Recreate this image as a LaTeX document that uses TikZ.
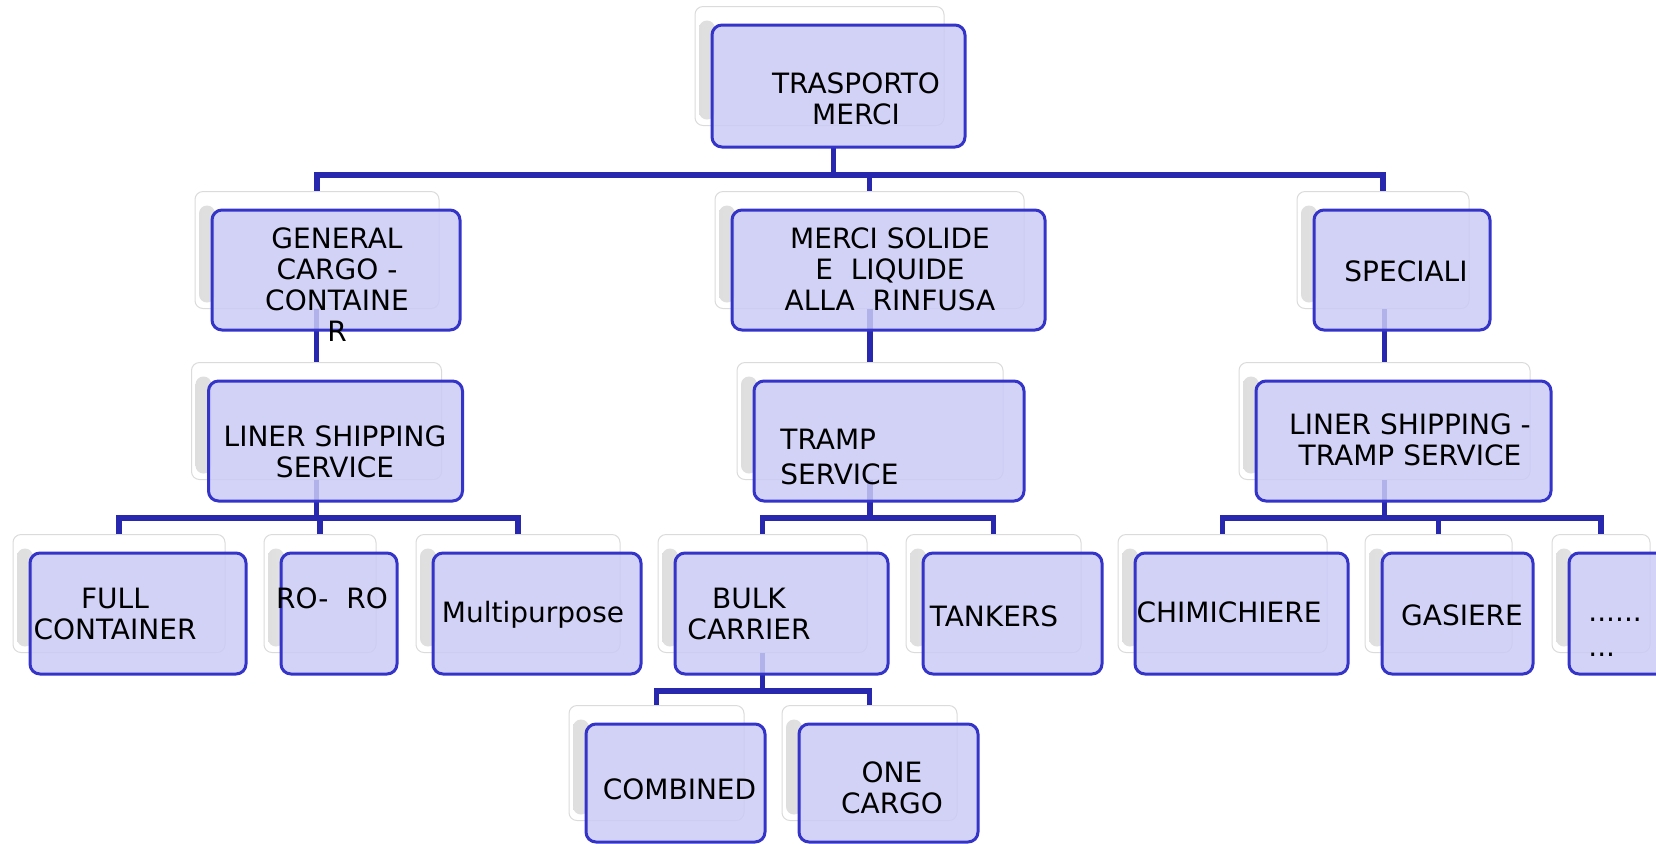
\documentclass[tikz,border=0pt]{standalone}
\usepackage{fontspec}
\setmainfont{DejaVu Sans}
\usepackage{xcolor}
\usetikzlibrary{calc}

\definecolor{cardfill}{RGB}{203,203,246}
\definecolor{cardline}{RGB}{52,52,200}
\definecolor{linkblue}{RGB}{40,40,175}

\tikzset{
  back/.style 2 args={draw=black!14, line width=0.5pt, fill=white, rounded corners=4pt,
    minimum width=#1, minimum height=#2, inner sep=0pt,
    path picture={\shade[left color=black!13, right color=black!3]
      ([xshift=2pt,yshift=-7pt]path picture bounding box.north west) rectangle
      ([xshift=10pt,yshift=3pt]path picture bounding box.south west);}},
  card/.style 2 args={draw=cardline, line width=1.5pt, fill=cardfill, fill opacity=0.85,
    rounded corners=5pt, minimum width=#1, minimum height=#2, inner sep=0pt},
  lbl/.style={align=center, inner sep=0pt, font=\fontsize{14}{15.5}\selectfont},
  link/.style={draw=linkblue, line width=2.75pt},
}

\begin{document}
\begin{tikzpicture}[x=0.5pt, y=-0.5pt]
\useasboundingbox (0,0) rectangle (1656,843);

% back sheets
\node[back={124.5pt}{59.5pt}] (t-s) at (819.5,66) {};
\node[back={122pt}{58.5pt}] (g-s) at (317,250) {};
\node[back={154.5pt}{58.5pt}] (m-s) at (869.5,250) {};
\node[back={86pt}{58.5pt}] (s-s) at (1383,250) {};
\node[back={125pt}{58.5pt}] (l-s) at (316.5,421) {};
\node[back={133pt}{58.5pt}] (tr-s) at (870,421) {};
\node[back={145.5pt}{58.5pt}] (lt-s) at (1384.5,421) {};
\node[back={106pt}{59pt}] (fc-s) at (119,593.5) {};
\node[back={56pt}{59pt}] (ro-s) at (320,593.5) {};
\node[back={102pt}{59pt}] (mp-s) at (518,593.5) {};
\node[back={104.5pt}{59pt}] (bk-s) at (762.5,593.5) {};
\node[back={87.5pt}{59pt}] (tk-s) at (993.5,593.5) {};
\node[back={104.5pt}{59pt}] (ch-s) at (1222.5,593.5) {};
\node[back={73.5pt}{59pt}] (ga-s) at (1438.5,593.5) {};
\node[back={49pt}{59pt}] (dt-s) at (1601,593.5) {};
\node[back={87.5pt}{57.5pt}] (co-s) at (656.5,763) {};
\node[back={87.5pt}{57.5pt}] (oc-s) at (869.5,763) {};

% connectors
\coordinate (t-foot) at ([xshift=-2.5pt]838.5,147);
\draw[link] (t-foot) -- ++(0,28) -| (g-s.north);
\draw[link] (t-foot) -- ++(0,28) -| (m-s.north);
\draw[link] (t-foot) -- ++(0,28) -| (s-s.north);
\draw[link] (l-s.north |- g-s.south) -- (l-s.north);
\draw[link] (tr-s.north |- m-s.south) -- (tr-s.north);
\draw[link] (lt-s.north |- s-s.south) -- (lt-s.north);
\draw[link] (l-s.south) -- ++(0,38) -| (fc-s.north);
\draw[link] (l-s.south) -- ++(0,38) -| (ro-s.north);
\draw[link] (l-s.south) -- ++(0,38) -| (mp-s.north);
\draw[link] (tr-s.south) -- ++(0,38) -| (bk-s.north);
\draw[link] (tr-s.south) -- ++(0,38) -| (tk-s.north);
\draw[link] (lt-s.south) -- ++(0,38) -| (ch-s.north);
\draw[link] (lt-s.south) -- ++(0,38) -| (ga-s.north);
\draw[link] (lt-s.south) -- ++(0,38) -| (dt-s.north);
\draw[link] (bk-s.south) -- ++(0,38) -| (co-s.north);
\draw[link] (bk-s.south) -- ++(0,38) -| (oc-s.north);

% cards
\node[card={126.5pt}{61pt}] (t) at (838.5,86) {};
\node[card={124pt}{60pt}] (g) at (336,270) {};
\node[card={156.5pt}{60pt}] (m) at (888.5,270) {};
\node[card={88pt}{60pt}] (s) at (1402,270) {};
\node[card={127pt}{60pt}] (l) at (335.5,441) {};
\node[card={135pt}{60pt}] (tr) at (889,441) {};
\node[card={147.5pt}{60pt}] (lt) at (1403.5,441) {};
\node[card={108pt}{60.5pt}] (fc) at (138,613.5) {};
\node[card={58pt}{60.5pt}] (ro) at (339,613.5) {};
\node[card={104pt}{60.5pt}] (mp) at (537,613.5) {};
\node[card={106.5pt}{60.5pt}] (bk) at (781.5,613.5) {};
\node[card={89.5pt}{60.5pt}] (tk) at (1012.5,613.5) {};
\node[card={106.5pt}{60.5pt}] (ch) at (1241.5,613.5) {};
\node[card={75.5pt}{60.5pt}] (ga) at (1457.5,613.5) {};
\node[card={51pt}{60.5pt}] (dt) at (1620,613.5) {};
\node[card={89.5pt}{59pt}] (co) at (675.5,783) {};
\node[card={89.5pt}{59pt}] (oc) at (888.5,783) {};

% texts
\node[lbl] (t-txt) at (856,98.5) {TRASPORTO\\MERCI};
\node[lbl] (g-txt) at (337,285) {GENERAL\\CARGO -\\CONTAINE\\R};
\node[lbl] (m-txt) at (890,269) {MERCI SOLIDE\\E\ \ LIQUIDE\\ALLA\ \ RINFUSA};
\node[lbl] (s-txt) at (1406,271) {SPECIALI};
\node[lbl] (l-txt) at (335,451.5) {LINER SHIPPING\\SERVICE};
\node[lbl, align=left, anchor=west, font=\fontsize{14}{17.5}\selectfont] (tr-txt) at (780,456.5) {TRAMP\\SERVICE};
\node[lbl] (lt-txt) at (1410,440) {LINER SHIPPING -\\TRAMP SERVICE};
\node[lbl] (fc-txt) at (115,614) {FULL\\CONTAINER};
\node[lbl] (ro-txt) at (332,598) {RO-\ \ RO};
\node[lbl] (mp-txt) at (533,615) {Multipurpose};
\node[lbl] (bk-txt) at (749,613.5) {BULK\\CARRIER};
\node[lbl] (tk-txt) at (994,616) {TANKERS};
\node[lbl] (ch-txt) at (1229,612.5) {CHIMICHIERE};
\node[lbl] (ga-txt) at (1462,615) {GASIERE};
\node[lbl, align=left, anchor=west, font=\fontsize{14}{17.5}\selectfont] (dt-txt) at (1588,637.5) {......\\...};
\node[lbl] (co-txt) at (679.5,789) {COMBINED};
\node[lbl] (oc-txt) at (892,788) {ONE\\CARGO};
\end{tikzpicture}
\end{document}
